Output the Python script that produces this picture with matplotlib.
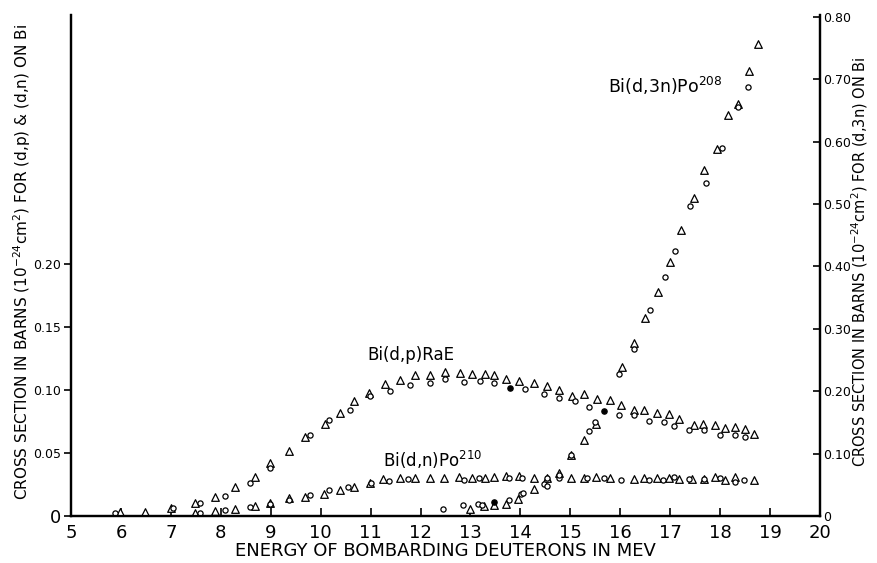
import matplotlib
matplotlib.use("Agg")
import matplotlib.pyplot as plt

# energies in MeV, cross sections in barns
# Bi(d,p)RaE  (left axis)
dp_tri_x = [5.99, 6.48, 7.0, 7.49, 7.88, 8.28, 8.68, 8.98, 9.37, 9.69, 10.09, 10.38, 10.67, 10.97,
            11.28, 11.58, 11.89, 12.18, 12.48, 12.79, 13.03, 13.29, 13.48, 13.71, 13.97, 14.27,
            14.53, 14.77, 15.03, 15.28, 15.53, 15.79, 16.02, 16.27, 16.48, 16.73, 16.97, 17.18,
            17.47, 17.65, 17.9, 18.09, 18.29, 18.49, 18.68]
dp_tri_y = [0.003, 0.003, 0.006, 0.010, 0.015, 0.023, 0.031, 0.042, 0.052, 0.063, 0.073, 0.082,
            0.091, 0.098, 0.105, 0.108, 0.112, 0.112, 0.114, 0.1135, 0.113, 0.113, 0.112, 0.109,
            0.107, 0.1055, 0.103, 0.100, 0.0955, 0.0965, 0.093, 0.092, 0.088, 0.084, 0.084, 0.082,
            0.081, 0.077, 0.0725, 0.073, 0.072, 0.070, 0.071, 0.069, 0.065]
dp_circ_x = [5.89, 7.05, 7.59, 8.08, 8.58, 8.98, 9.78, 10.17, 10.58, 10.98, 11.38, 11.78, 12.18,
             12.48, 12.87, 13.19, 13.48, 14.09, 14.47, 14.78, 15.09, 15.38, 15.98, 16.27, 16.58,
             16.88, 17.07, 17.38, 17.68, 17.99, 18.29, 18.49]
dp_circ_y = [0.002, 0.006, 0.0105, 0.016, 0.026, 0.038, 0.0645, 0.076, 0.084, 0.095, 0.0995, 0.104,
             0.1055, 0.109, 0.1065, 0.107, 0.106, 0.101, 0.097, 0.0935, 0.091, 0.0865, 0.080,
             0.080, 0.0755, 0.075, 0.0715, 0.0685, 0.068, 0.0645, 0.064, 0.063]
dp_dot_x = [13.8, 15.68]
dp_dot_y = [0.1013, 0.0837]

# Bi(d,n)Po210  (left axis)
dn_tri_x = [7.49, 7.88, 8.28, 8.68, 8.98, 9.37, 9.69, 10.07, 10.38, 10.67, 10.98, 11.25, 11.58,
            11.88, 12.18, 12.47, 12.77, 13.03, 13.29, 13.47, 13.71, 13.97, 14.28, 14.53, 15.01,
            15.27, 15.51, 15.79, 16.27, 16.48, 16.73, 16.97, 17.18, 17.43, 17.67, 17.9, 18.09,
            18.29, 18.68]
dn_tri_y = [0.0025, 0.004, 0.0055, 0.008, 0.0105, 0.014, 0.015, 0.0175, 0.0205, 0.023, 0.0265,
            0.029, 0.030, 0.030, 0.030, 0.030, 0.031, 0.030, 0.030, 0.031, 0.032, 0.032, 0.030,
            0.030, 0.030, 0.030, 0.031, 0.030, 0.029, 0.030, 0.030, 0.030, 0.029, 0.029, 0.029,
            0.031, 0.0285, 0.031, 0.0285]
dn_circ_x = [7.59, 8.08, 8.58, 8.98, 9.37, 9.78, 10.17, 10.55, 11.0, 11.37, 11.75, 12.87, 13.17,
             13.78, 14.03, 14.53, 14.77, 15.33, 15.67, 16.01, 16.58, 16.85, 17.07, 17.38, 17.67,
             17.99, 18.29, 18.48]
dn_circ_y = [0.002, 0.005, 0.007, 0.0095, 0.013, 0.0165, 0.0205, 0.023, 0.026, 0.028, 0.029,
             0.0285, 0.030, 0.030, 0.030, 0.030, 0.030, 0.030, 0.030, 0.0285, 0.0285, 0.0285,
             0.031, 0.029, 0.029, 0.030, 0.027, 0.0285]

# Bi(d,3n)Po208  (right axis)
d3n_tri_x = [13.0, 13.27, 13.47, 13.71, 13.95, 14.28, 14.77, 15.01, 15.28, 15.52, 16.03, 16.28,
             16.49, 16.75, 17.0, 17.21, 17.47, 17.67, 17.93, 18.15, 18.35, 18.57, 18.75]
d3n_tri_y = [0.012, 0.0165, 0.0175, 0.020, 0.028, 0.043, 0.069, 0.098, 0.121, 0.147, 0.239, 0.278,
             0.317, 0.359, 0.407, 0.458, 0.509, 0.554, 0.588, 0.643, 0.661, 0.713, 0.756]
d3n_circ_x = [12.45, 12.85, 13.15, 13.23, 13.77, 14.02, 14.05, 14.47, 14.53, 14.77, 15.01, 15.37,
              15.49, 15.98, 16.28, 16.59, 16.9, 17.1, 17.4, 17.71, 18.03, 18.35, 18.55]
d3n_circ_y = [0.011, 0.018, 0.020, 0.018, 0.026, 0.035, 0.037, 0.051, 0.048, 0.066, 0.098, 0.137,
              0.150, 0.227, 0.267, 0.330, 0.383, 0.425, 0.497, 0.533, 0.589, 0.656, 0.687]
d3n_dot_x = [13.47]
d3n_dot_y = [0.023]

x_ticks = list(range(5, 21))
left_ticks = [0, 0.05, 0.10, 0.15, 0.20]
left_labels = ["0", "0.05", "0.10", "0.15", "0.20"]
right_ticks = [0, 0.1, 0.2, 0.3, 0.4, 0.5, 0.6, 0.7, 0.8]
right_labels = ["0", "0.10", "0.20", "0.30", "0.40", "0.50", "0.60", "0.70", "0.80"]

fig = plt.figure(figsize=(8.77, 5.63), dpi=100)
ax = fig.add_axes([0.081, 0.0835, 0.854, 0.890])
ax2 = ax.twinx()

tri = dict(marker="^", s=30, facecolors="white", edgecolors="black", linewidths=0.9, zorder=3)
circ = dict(marker="o", s=14, facecolors="white", edgecolors="black", linewidths=0.9, zorder=3)
dot = dict(marker="o", s=14, color="black", zorder=4)

ax.scatter(dp_tri_x, dp_tri_y, **tri)
ax.scatter(dp_circ_x, dp_circ_y, **circ)
ax.scatter(dp_dot_x, dp_dot_y, **dot)
ax.scatter(dn_tri_x, dn_tri_y, **tri)
ax.scatter(dn_circ_x, dn_circ_y, **circ)
ax2.scatter(d3n_tri_x, d3n_tri_y, **tri)
ax2.scatter(d3n_circ_x, d3n_circ_y, **circ)
ax2.scatter(d3n_dot_x, d3n_dot_y, **dot)

ax.set_xlim(5, 20)
ax.set_ylim(0, 0.398)
ax2.set_ylim(0, 0.803)

for a in (ax, ax2):
    a.spines["top"].set_visible(False)
    for s in ("left", "right", "bottom"):
        a.spines[s].set_linewidth(1.6)

ax.set_xticks(x_ticks)
ax.set_xticklabels([str(t) for t in x_ticks], fontsize=13)
ax.tick_params(axis="x", direction="in", length=6, width=1.2, pad=6)
ax.set_yticks(left_ticks)
ax.set_yticklabels(left_labels, fontsize=9)
ax.get_yticklabels()[0].set_fontsize(13)
ax.tick_params(axis="y", direction="out", length=5, width=1.2, pad=2)

ax2.set_yticks(right_ticks)
ax2.set_yticklabels(right_labels, fontsize=9)
ax2.tick_params(axis="y", direction="in", length=5, width=1.2, pad=2)

ax.text(15.75, 0.336, "Bi(d,3n)Po$^{208}$", fontsize=12.5)
ax.text(10.93, 0.124, "Bi(d,p)RaE", fontsize=12)
ax.text(11.25, 0.039, "Bi(d,n)Po$^{210}$", fontsize=12)

fig.text(0.508, 0.021, "ENERGY OF BOMBARDING DEUTERONS IN MEV", ha="center", va="center",
         fontsize=13)
fig.text(0.025, 0.535, "CROSS SECTION IN BARNS (10$^{-24}$cm$^2$) FOR (d,p) & (d,n) ON Bi",
         rotation=90, ha="center", va="center", fontsize=11)
fig.text(0.980, 0.535, "CROSS SECTION IN BARNS (10$^{-24}$cm$^2$) FOR (d,3n) ON Bi",
         rotation=90, ha="center", va="center", fontsize=10.5)

fig.savefig("out.png", dpi=100)
